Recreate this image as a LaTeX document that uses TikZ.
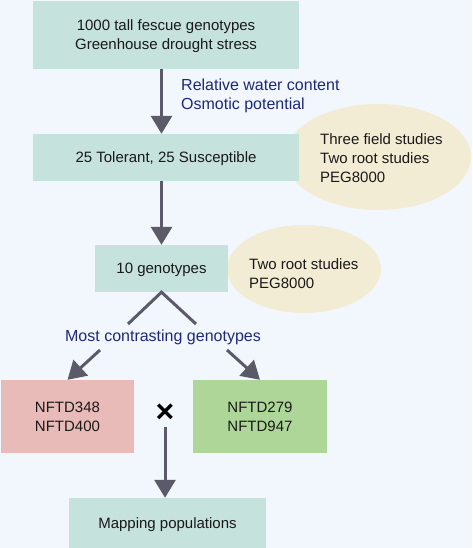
\documentclass[tikz,border=0pt]{standalone}
\usepackage{fontspec}
\setmainfont{Liberation Sans}
\usetikzlibrary{arrows.meta,shapes.geometric}
\definecolor{bg}{RGB}{242,247,253}
\definecolor{teal}{RGB}{197,226,220}
\definecolor{cream}{RGB}{243,236,212}
\definecolor{redbox}{RGB}{232,187,184}
\definecolor{greenbox}{RGB}{173,214,152}
\definecolor{arrc}{RGB}{90,90,105}
\definecolor{bluetxt}{RGB}{30,40,120}
\definecolor{blk}{RGB}{25,25,25}
\tikzset{
  boxs/.style={rectangle, inner sep=0pt, align=center, text=blk, text depth=0pt, font=\fontsize{15}{19}\selectfont},
  ell/.style={ellipse, fill=cream, inner sep=0pt},
  etext/.style={anchor=west, align=left, text=blk, inner sep=0pt, font=\fontsize{15}{19}\selectfont},
  lbl/.style={text=bluetxt, inner sep=0pt, font=\fontsize{16}{19}\selectfont},
  arr/.style={draw=arrc, line width=3pt, -{Triangle[width=21pt,length=18pt]}},
  ln/.style={draw=arrc, line width=3pt}
}
\begin{document}
\begin{tikzpicture}[x=1pt,y=-1pt]
\fill[bg] (0,0) rectangle (472,548);
\useasboundingbox (0,0) rectangle (472,548);
% ellipses (behind boxes)
\node[ell, minimum width=186pt, minimum height=106pt] (e1) at (378,157) {};
\node[ell, minimum width=154pt, minimum height=88pt] (e2) at (304,269) {};
% boxes
\node[boxs, fill=teal, minimum width=266pt, minimum height=68pt] (b1) at (166,35) {1000 tall fescue genotypes\\Greenhouse drought stress};
\node[boxs, fill=teal, minimum width=266pt, minimum height=47pt] (b2) at (166,157.5) {25 Tolerant, 25 Susceptible};
\node[boxs, fill=teal, minimum width=133pt, minimum height=47pt] (b3) at (161.5,268.5) {10 genotypes};
\node[boxs, fill=redbox, minimum width=133pt, minimum height=73pt] (red) at (67.5,416.5) {NFTD348\\NFTD400};
\node[boxs, fill=greenbox, minimum width=134pt, minimum height=73pt] (green) at (260,416.5) {NFTD279\\NFTD947};
\node[boxs, fill=teal, minimum width=197pt, minimum height=50pt] (b5) at (167.5,523) {Mapping populations};
% ellipse texts
\node[etext] (t1) at (320,158.5) {Three field studies\\Two root studies\\PEG8000};
\node[etext] (t2) at (249,274) {Two root studies\\PEG8000};
% labels
\node[lbl, anchor=west, align=left] (l1) at (181,95.5) {Relative water content\\Osmotic potential};
\node[lbl] (l2) at (163,337) {Most contrasting genotypes};
\node[text=black, inner sep=0pt, font=\fontsize{32}{32}\selectfont\bfseries] (x) at (165,413) {×};
% connectors
\draw[arr] (b1.south -| b3) -- (b2.north -| b3);
\draw[arr] (b2.south -| b3) -- (b3.north);
\coordinate (sl) at (128,324);
\coordinate (sr) at (196,324);
\draw[ln] (sl) -- (b3.south) -- (sr);
\coordinate (al) at (100,350);
\coordinate (ar) at (227,350);
\draw[arr] (al) -- (red.north);
\draw[arr] (ar) -- (green.north);
\coordinate (xs) at (165,427);
\draw[arr] (xs) -- (b5.north -| xs);
\end{tikzpicture}
\end{document}
